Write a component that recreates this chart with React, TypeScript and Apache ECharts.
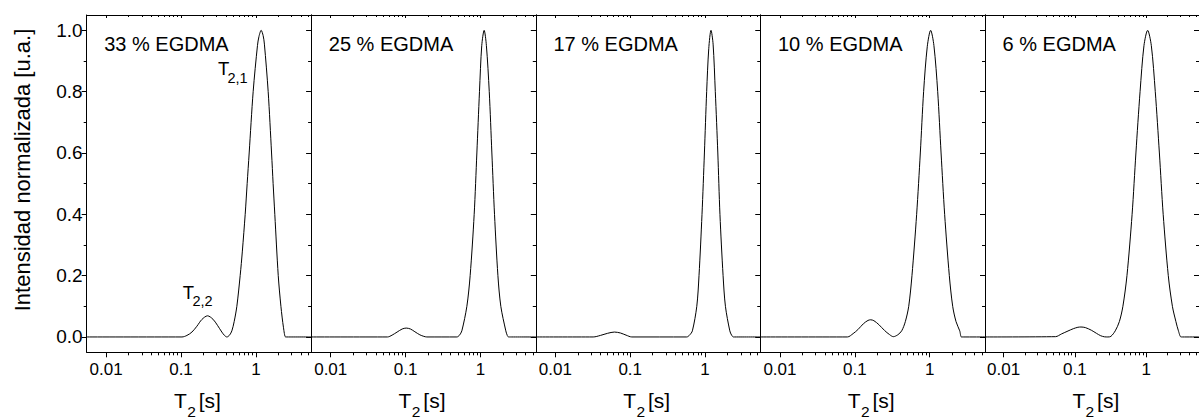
import React, { useEffect, useRef } from "react";
import * as echarts from "echarts";

// ---- data ----
const panelTitles = ["33 % EGDMA", "25 % EGDMA", "17 % EGDMA", "10 % EGDMA", "6 % EGDMA"];

const xMin = 0.0055;
const xMax = 5.5;
const xMajorTicks = [0.01, 0.1, 1];
const xMinorTicks = [0.02, 0.03, 0.04, 0.05, 0.06, 0.07, 0.08, 0.09, 0.2, 0.3, 0.4, 0.5, 0.6, 0.7, 0.8, 0.9, 2, 3, 4, 5];
const yMin = -0.05;
const yMax = 1.05;
const yMajorTicks = [0, 0.2, 0.4, 0.6, 0.8, 1.0];
const yMinorTicks = [0.1, 0.3, 0.5, 0.7, 0.9];

const egdma33: [number, number][] = [
  [0.0055, 0], [0.1, 0], [0.103, 0], [0.12, 0.005], [0.14, 0.016], [0.163, 0.035], [0.19, 0.057],
  [0.226, 0.069], [0.267, 0.058], [0.307, 0.038], [0.351, 0.016], [0.381, 0.005], [0.41, 0],
  [0.445, 0.006], [0.478, 0.02], [0.513, 0.05], [0.557, 0.1], [0.617, 0.2], [0.66, 0.28], [0.72, 0.4],
  [0.765, 0.5], [0.814, 0.6], [0.92, 0.8], [1.05, 0.95], [1.1, 0.98], [1.177, 1.0], [1.25, 0.983],
  [1.3, 0.955], [1.46, 0.8], [1.62, 0.6], [1.7, 0.5], [1.79, 0.4], [1.99, 0.2], [2.16, 0.1],
  [2.34, 0.03], [2.49, 0], [2.6, 0], [5.5, 0],
];
const egdma25: [number, number][] = [
  [0.0055, 0], [0.0573, 0], [0.066, 0.006], [0.077, 0.016], [0.09, 0.026], [0.102, 0.029],
  [0.116, 0.026], [0.133, 0.017], [0.155, 0.007], [0.175, 0.002], [0.192, 0], [0.484, 0],
  [0.525, 0.006], [0.564, 0.02], [0.658, 0.1], [0.728, 0.2], [0.824, 0.4], [0.895, 0.6], [0.97, 0.8],
  [1.04, 0.95], [1.12, 1.0], [1.2, 0.95], [1.31, 0.8], [1.42, 0.6], [1.54, 0.4], [1.71, 0.2],
  [1.87, 0.1], [2.18, 0.02], [2.28, 0.005], [2.37, 0], [2.5, 0], [5.5, 0],
];
const egdma17: [number, number][] = [
  [0.0055, 0], [0.032, 0], [0.04, 0.005], [0.05, 0.012], [0.0615, 0.016], [0.074, 0.013],
  [0.088, 0.006], [0.105, 0], [0.569, 0], [0.62, 0.006], [0.677, 0.02], [0.775, 0.1], [0.83, 0.2],
  [0.91, 0.4], [0.98, 0.6], [1.05, 0.8], [1.12, 0.94], [1.2, 1.0], [1.28, 0.955], [1.37, 0.8],
  [1.48, 0.6], [1.58, 0.4], [1.74, 0.2], [1.87, 0.1], [2.14, 0.02], [2.26, 0.006], [2.39, 0],
  [2.5, 0], [5.5, 0],
];
const egdma10: [number, number][] = [
  [0.0055, 0], [0.0796, 0], [0.095, 0.011], [0.11, 0.024], [0.13, 0.043], [0.15, 0.054],
  [0.163, 0.056], [0.18, 0.053], [0.21, 0.04], [0.25, 0.021], [0.29, 0.008], [0.327, 0.001],
  [0.375, 0.007], [0.423, 0.02], [0.473, 0.05], [0.525, 0.1], [0.58, 0.2], [0.67, 0.4], [0.75, 0.6],
  [0.83, 0.8], [0.93, 0.948], [1.03, 1.0], [1.14, 0.95], [1.28, 0.8], [1.42, 0.6], [1.585, 0.4],
  [1.83, 0.2], [2.03, 0.1], [2.25, 0.05], [2.52, 0.02], [2.65, 0], [2.8, 0], [5.5, 0],
];
const egdma6: [number, number][] = [
  [0.0055, 0], [0.0535, 0.001], [0.065, 0.01], [0.08, 0.0195], [0.095, 0.027], [0.11, 0.0316],
  [0.1216, 0.0325], [0.14, 0.0306], [0.17, 0.022], [0.2, 0.012], [0.23, 0.004], [0.26, 0.0005],
  [0.29, 0], [0.32, 0.002], [0.368, 0.02], [0.42, 0.05], [0.471, 0.1], [0.537, 0.2], [0.634, 0.4],
  [0.717, 0.6], [0.82, 0.8], [0.93, 0.95], [1.047, 1.0], [1.18, 0.95], [1.34, 0.8], [1.53, 0.6],
  [1.73, 0.4], [2.04, 0.2], [2.33, 0.1], [2.61, 0.05], [2.83, 0.02], [3.07, 0], [3.2, 0], [5.5, 0],
];
const panelSeries = [egdma33, egdma25, egdma17, egdma10, egdma6];

// ---- layout ----
const FONT = "'Liberation Sans', Arial, Helvetica, sans-serif";
const PANEL_LEFT0 = 86.7;
const PANEL_W = 224.6;
const PANEL_TOP = 15;
const PANEL_H = 337.3;

function buildOption() {
  const grid: any[] = [];
  const xAxis: any[] = [];
  const yAxis: any[] = [];
  const series: any[] = [];
  const graphic: any[] = [];
  const line = { color: "#000", width: 1 };

  panelSeries.forEach((data, p) => {
    const left = PANEL_LEFT0 + p * PANEL_W;
    grid.push({ left, top: PANEL_TOP, width: PANEL_W, height: PANEL_H, containLabel: false });

    const xb = (position: string) => ({
      type: "log", logBase: 10, gridIndex: p, min: xMin, max: xMax, position,
      splitLine: { show: false }, minorTick: { show: false }, minorSplitLine: { show: false },
      axisLine: { show: false, onZero: false }, axisLabel: { show: false }, axisTick: { show: false },
    });
    xAxis.push({
      ...xb("bottom"),
      axisLine: { show: true, onZero: false, lineStyle: line },
      axisTick: { show: true, inside: false, length: 5, customValues: xMajorTicks, lineStyle: line },
      axisLabel: {
        show: true, customValues: xMajorTicks, formatter: (v: number) => String(v),
        margin: 8.5, fontSize: 17, color: "#000", fontFamily: FONT,
      },
    });
    xAxis.push({ ...xb("bottom"), axisTick: { show: true, inside: false, length: 3, customValues: xMinorTicks, lineStyle: line } });
    xAxis.push({
      ...xb("top"),
      axisLine: { show: true, onZero: false, lineStyle: line },
      axisTick: { show: true, inside: true, length: 3, customValues: xMajorTicks, lineStyle: line },
    });
    xAxis.push({ ...xb("top"), axisTick: { show: true, inside: true, length: 2, customValues: xMinorTicks, lineStyle: line } });

    const yb = (position: string) => ({
      type: "value", gridIndex: p, min: yMin, max: yMax, position,
      splitLine: { show: false },
      axisLine: { show: false, onZero: false }, axisLabel: { show: false }, axisTick: { show: false },
    });
    yAxis.push({
      ...yb("left"),
      axisLine: { show: true, onZero: false, lineStyle: line },
      axisTick: { show: true, inside: false, length: 5, customValues: yMajorTicks, lineStyle: line },
      axisLabel: {
        show: p === 0, customValues: yMajorTicks, formatter: (v: number) => v.toFixed(1),
        margin: 4, fontSize: 19, color: "#000", fontFamily: FONT,
      },
    });
    yAxis.push({ ...yb("left"), axisTick: { show: true, inside: false, length: 3, customValues: yMinorTicks, lineStyle: line } });
    yAxis.push({
      ...yb("right"),
      axisLine: { show: true, onZero: false, lineStyle: line },
      axisTick: { show: true, inside: true, length: 5, customValues: yMajorTicks, lineStyle: line },
    });
    yAxis.push({ ...yb("right"), axisTick: { show: true, inside: true, length: 3, customValues: yMinorTicks, lineStyle: line } });

    series.push({
      type: "line", name: panelTitles[p], xAxisIndex: 4 * p, yAxisIndex: 4 * p, data,
      showSymbol: false, symbol: "none", smooth: 0.3, silent: true,
      lineStyle: { color: "#000", width: 1 },
    });

    // panel title
    graphic.push({
      type: "text", x: left + 17.5, y: 43.7,
      style: { text: panelTitles[p], fontSize: 20, fontFamily: FONT, fill: "#000", align: "left", verticalAlign: "middle" },
    });
    // x axis name: T2 [s]
    graphic.push({
      type: "text", x: left + 87.3, y: 400,
      style: { text: "T", fontSize: 21, fontFamily: FONT, fill: "#000", align: "left", verticalAlign: "middle" },
    });
    graphic.push({
      type: "text", x: left + 100.5, y: 411,
      style: { text: "2", fontSize: 15.5, fontFamily: FONT, fill: "#000", align: "left", verticalAlign: "middle" },
    });
    graphic.push({
      type: "text", x: left + 112, y: 400,
      style: { text: "[s]", fontSize: 21, fontFamily: FONT, fill: "#000", align: "left", verticalAlign: "middle" },
    });
  });

  // y axis name
  graphic.push({
    type: "text", x: 22, y: 170, rotation: Math.PI / 2,
    style: { text: "Intensidad normalizada [u.a.]", fontSize: 22, fontFamily: FONT, fill: "#000", align: "center", verticalAlign: "middle" },
  });
  // peak annotations (panel 1)
  graphic.push({ type: "text", x: 218, y: 68.8, style: { text: "T", fontSize: 18.5, fontFamily: FONT, fill: "#000", align: "left", verticalAlign: "middle" } });
  graphic.push({ type: "text", x: 227.5, y: 78, style: { text: "2,1", fontSize: 14.5, fontFamily: FONT, fill: "#000", align: "left", verticalAlign: "middle" } });
  graphic.push({ type: "text", x: 182.7, y: 292.7, style: { text: "T", fontSize: 18.5, fontFamily: FONT, fill: "#000", align: "left", verticalAlign: "middle" } });
  graphic.push({ type: "text", x: 192.5, y: 300.5, style: { text: "2,2", fontSize: 14.5, fontFamily: FONT, fill: "#000", align: "left", verticalAlign: "middle" } });

  return {
    animation: false,
    backgroundColor: "#fff",
    textStyle: { fontFamily: FONT },
    grid, xAxis, yAxis, series, graphic,
  };
}

export default function App() {
  const ref = useRef<HTMLDivElement>(null);
  useEffect(() => {
    if (!ref.current) return;
    const chart = echarts.init(ref.current, undefined, { renderer: "svg" });
    chart.setOption(buildOption() as any);
    return () => chart.dispose();
  }, []);
  return (
    <div
      ref={ref}
      style={{ position: "absolute", left: 0, top: 0, width: 1199, height: 419, overflow: "hidden", background: "#fff" }}
    />
  );
}
